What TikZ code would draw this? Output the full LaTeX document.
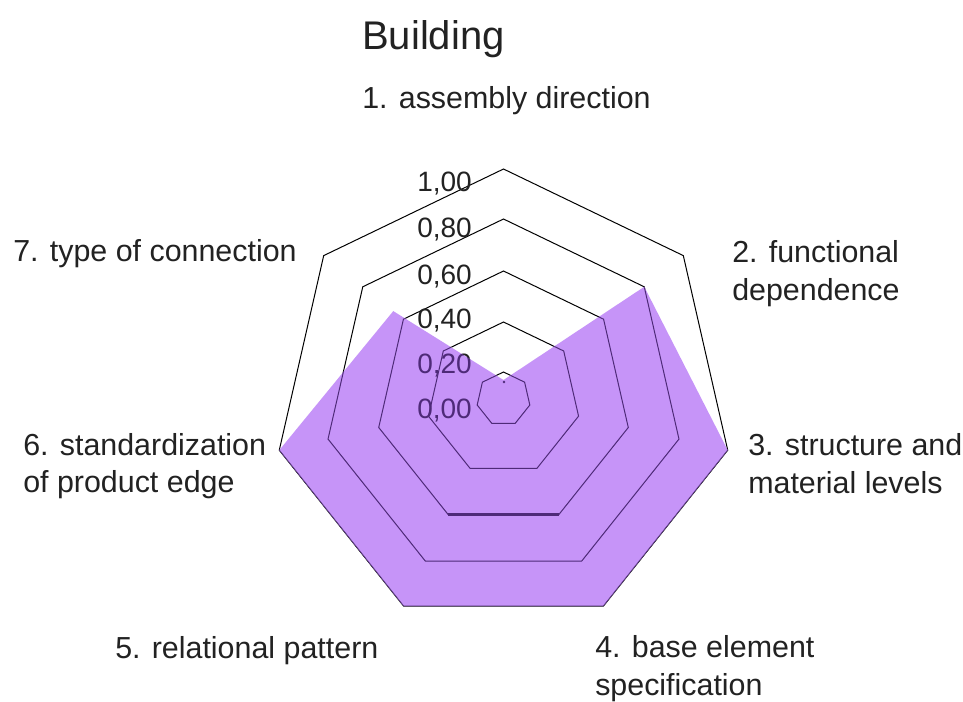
\documentclass[tikz,border=0pt]{standalone}
\usepackage{fontspec}
\setmainfont{Liberation Sans}
\definecolor{fillc}{HTML}{C694F8}
\definecolor{linein}{HTML}{4E2A78}
\definecolor{txt}{HTML}{222222}
\newcommand\myrings[1]{%
  \begin{scope}[shift={(503.5,399)}, yscale=-1]
    \foreach \r in {27,77,128,180,230} {
      \draw[ring, draw=#1] (90:\r) foreach \k in {1,...,6} { -- ({90-\k*360/7}:\r) } -- cycle;
    }
    \draw[draw=#1, line width=1.8pt] ({90-3*360/7}:128) -- ({90-4*360/7}:128);
  \end{scope}}
\newcommand\myscale[1]{%
  \node[scl, text=#1] (s100) at (417,191) {1,00};
  \node[scl, text=#1] (s080) at (417,237) {0,80};
  \node[scl, text=#1] (s060) at (417,284) {0,60};
  \node[scl, text=#1] (s040) at (417,328) {0,40};
  \node[scl, text=#1] (s020) at (417,373) {0,20};
  \node[scl, text=#1] (s000) at (417,418) {0,00};}
\begin{document}
\begin{tikzpicture}[x=0.75pt,y=-0.75pt,
  lab/.style={inner sep=0pt, anchor=base west, text=txt, font=\fontsize{22.8}{28}\selectfont},
  ttl/.style={inner sep=0pt, anchor=base west, text=txt, font=\fontsize{30}{36}\selectfont},
  scl/.style={inner sep=0pt, anchor=base west, font=\fontsize{21}{25}\selectfont},
  ring/.style={line width=0.75pt, line join=miter}]
\useasboundingbox[fill=white] (0,0) rectangle (963,701);

% fill vertices
\begin{scope}[shift={(503.5,399)}, yscale=-1]
  \coordinate (f1) at (90:19);
  \coordinate (f2) at ({90-360/7}:180);
  \coordinate (f3) at ({90-2*360/7}:230);
  \coordinate (f4) at ({90-3*360/7}:230);
  \coordinate (f5) at ({90-4*360/7}:230);
  \coordinate (f6) at ({90-5*360/7}:230);
  \coordinate (f7) at ({90-6*360/7}:141);
\end{scope}

% grid and scale (outside fill)
\myrings{black}
\myscale{txt}

% data area
\fill[fillc] (f1) -- (f2) -- (f3) -- (f4) -- (f5) -- (f6) -- (f7) -- cycle;
\begin{scope}
  \clip (f1) -- (f2) -- (f3) -- (f4) -- (f5) -- (f6) -- (f7) -- cycle;
  \myrings{linein}
  \myscale{linein}
\end{scope}
\fill[linein] (504,382) circle (1.4);

% title and axis labels
\node[ttl] (title) at (362,49) {Building};
\node[lab] (a1) at (362,108) {1. assembly direction};
\node[lab] (a2) at (732,262) {2. functional};
\node[lab] (a2b) at (732,300) {dependence};
\node[lab] (a3) at (748,455) {3. structure and};
\node[lab] (a3b) at (748,493) {material levels};
\node[lab] (a4) at (595,657) {4. base element};
\node[lab] (a4b) at (595,695) {specification};
\node[lab] (a5) at (115,658) {5. relational pattern};
\node[lab] (a6) at (23,455) {6. standardization};
\node[lab] (a6b) at (23,492) {of product edge};
\node[lab] (a7) at (13,261) {7. type of connection};
\end{tikzpicture}
\end{document}
